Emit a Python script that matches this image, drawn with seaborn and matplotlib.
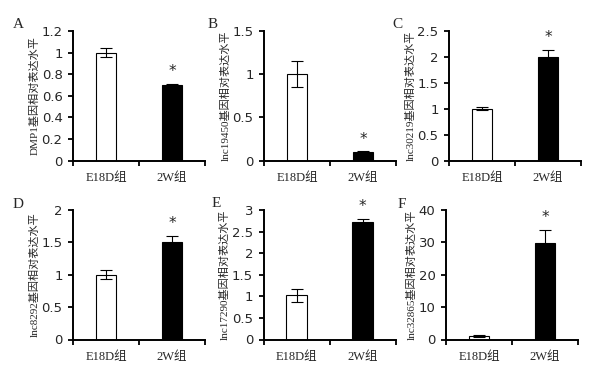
import matplotlib
matplotlib.use("Agg")
import matplotlib.pyplot as plt
import seaborn as sns
import pandas as pd

sns.set_theme(style="white")
plt.rcParams['font.family'] = ['DejaVu Sans', 'Noto Sans CJK SC']

groups = ["E18D组", "2W组"]
panel_letters = ["A", "B", "C", "D", "E", "F"]
ylabels = ["DMP1基因相对表达水平", "lnc19450基因相对表达水平", "lnc30219基因相对表达水平",
           "lnc8292基因相对表达水平", "lnc17290基因相对表达水平", "lnc32865基因相对表达水平"]
means = [[1.0, 0.70], [1.0, 0.10], [1.0, 1.99], [1.0, 1.50], [1.02, 2.72], [1.0, 29.7]]
errs = [[0.04, 0.01], [0.15, 0.01], [0.03, 0.15], [0.07, 0.10], [0.15, 0.08], [0.3, 4.2]]
yticks = [[0, 0.2, 0.4, 0.6, 0.8, 1, 1.2], [0, 0.5, 1, 1.5], [0, 0.5, 1, 1.5, 2, 2.5],
          [0, 0.5, 1, 1.5, 2], [0, 0.5, 1, 1.5, 2, 2.5, 3], [0, 10, 20, 30, 40]]
ytick_labels = [["0", "0.2", "0.4", "0.6", "0.8", "1", "1.2"], ["0", "0.5", "1", "1.5"],
                ["0", "0.5", "1", "1.5", "2", "2.5"], ["0", "0.5", "1", "1.5", "2"],
                ["0", "0.5", "1", "1.5", "2", "2.5", "3"], ["0", "10", "20", "30", "40"]]

W, H = 593, 374
fig = plt.figure(figsize=(W / 100, H / 100), dpi=100)
lefts = [73, 264, 449, 73, 263.5, 446]
tops = [31, 31, 31, 210, 210, 210]
bottoms = [160.7, 160.7, 160.7, 339.5, 339.5, 339.5]
letter_xy = [(18, 25), (213, 24), (397, 25), (18, 205), (216, 204), (402, 205)]
axw = 132

serif = ['Liberation Serif', 'Noto Sans CJK SC']

for i in range(6):
    l, t, b = lefts[i], tops[i], bottoms[i]
    ax = fig.add_axes([l / W, (H - b) / H, axw / W, (b - t) / H])
    df = pd.DataFrame({"group": groups, "value": means[i]})
    sns.barplot(data=df, x="group", y="value", hue="group", palette=["white", "black"],
                edgecolor="black", linewidth=0.8, width=0.31, legend=False, ax=ax, errorbar=None)
    ax.errorbar(x=[0, 1], y=means[i], yerr=errs[i], fmt="none", ecolor="black",
                elinewidth=0.8, capsize=4.5, capthick=0.8)
    ax.set_xlim(-0.5, 1.5)
    ax.set_ylim(0, yticks[i][-1])
    ax.set_yticks(yticks[i])
    ax.set_yticklabels(ytick_labels[i], fontsize=9.5)
    ax.set_xticks([-0.5, 0.5, 1.5])
    ax.set_xticklabels([])
    for xi, g in enumerate(groups):
        ax.text(xi, -0.09, g, transform=ax.get_xaxis_transform(), ha="center", va="top",
                fontsize=9, family=serif)
    ax.tick_params(axis="both", which="both", direction="out", length=3.5, width=1.3,
                   color="black", left=True, bottom=True)
    ax.tick_params(axis="y", pad=4)
    for s in ["top", "right"]:
        ax.spines[s].set_visible(False)
    for s in ["left", "bottom"]:
        ax.spines[s].set_color("black")
        ax.spines[s].set_linewidth(1.4)
    ax.set_xlabel("")
    ax.set_ylabel(ylabels[i], fontsize=8, family=serif, labelpad=1.5)
    top_val = means[i][1] + errs[i][1]
    ax.text(1, top_val + 0.035 * yticks[i][-1], "*", ha="center", va="bottom", fontsize=11)
    lx, ly = letter_xy[i]
    fig.text(lx / W, 1 - ly / H, panel_letters[i], ha="center", va="center",
             fontsize=11, family=serif)

fig.savefig("out.png", dpi=100)
